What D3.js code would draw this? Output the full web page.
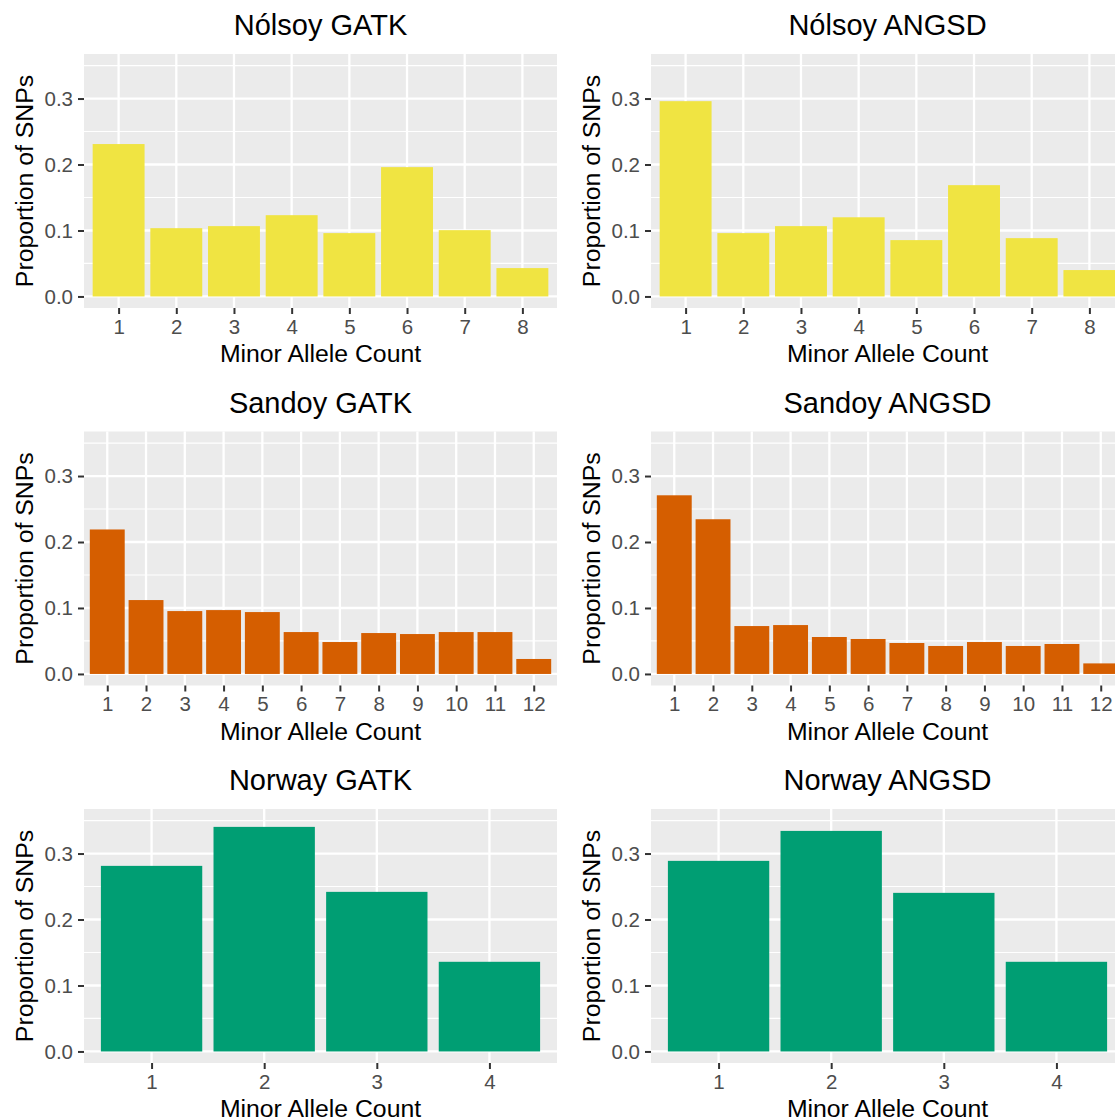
<!DOCTYPE html>
<html>
<head>
<meta charset="utf-8">
<script src="https://cdn.jsdelivr.net/npm/d3@7"></script>
<style>
  body { margin: 0; background: #fff; }
  svg text { font-family: "Liberation Sans", Arial, sans-serif; }
</style>
</head>
<body>
<div id="chartArea"></div>
<script>
// Minor allele count spectra, 3 populations x 2 callers

const nolsoyCounts = ["1", "2", "3", "4", "5", "6", "7", "8"];
const sandoyCounts = ["1", "2", "3", "4", "5", "6", "7", "8", "9", "10", "11", "12"];
const norwayCounts = ["1", "2", "3", "4"];

const nolsoyGatk = [0.231, 0.1035, 0.1066, 0.1232, 0.096, 0.196, 0.1005, 0.043];
const nolsoyAngsd = [0.296, 0.096, 0.1066, 0.120, 0.0854, 0.1687, 0.0884, 0.040];
const sandoyGatk = [0.219, 0.112, 0.0953, 0.0968, 0.0938, 0.0635, 0.0484, 0.062, 0.0605, 0.0635, 0.0635, 0.0227];
const sandoyAngsd = [0.2708, 0.2345, 0.0726, 0.0741, 0.056, 0.053, 0.0469, 0.0424, 0.0484, 0.0424, 0.0454, 0.016];
const norwayGatk = [0.2813, 0.3404, 0.2419, 0.1359];
const norwayAngsd = [0.2889, 0.3343, 0.2404, 0.1359];

const panelTitles = ["Nólsoy GATK", "Nólsoy ANGSD", "Sandoy GATK", "Sandoy ANGSD", "Norway GATK", "Norway ANGSD"];
const yTicks = [0, 0.1, 0.2, 0.3];
const yMinorTicks = [0.05, 0.15, 0.25, 0.35];
const yLimit = 0.35;

const colYellow = "#F0E442";
const colOrange = "#D55E00";
const colGreen = "#009E73";

const panels = [
  { title: panelTitles[0], counts: nolsoyCounts, values: nolsoyGatk, color: colYellow },
  { title: panelTitles[1], counts: nolsoyCounts, values: nolsoyAngsd, color: colYellow },
  { title: panelTitles[2], counts: sandoyCounts, values: sandoyGatk, color: colOrange },
  { title: panelTitles[3], counts: sandoyCounts, values: sandoyAngsd, color: colOrange },
  { title: panelTitles[4], counts: norwayCounts, values: norwayGatk, color: colGreen },
  { title: panelTitles[5], counts: norwayCounts, values: norwayAngsd, color: colGreen },
];

const width = 1115;
const height = 1120;
const colStep = 567;
const rowStep = 377.5;
// panel box inside one plot cell
const pLeft = 84, pTop = 54, pWidth = 473, pHeight = 254;
const tickFont = "20.5px";

const svg = d3.select("#chartArea")
  .append("svg")
  .attr("width", width)
  .attr("height", height);

panels.forEach((p, i) => {
  const col = i % 2;
  const row = Math.floor(i / 2);
  drawPanel(svg.append("g").attr("transform", `translate(${col * colStep}, ${row * rowStep})`), p);
});

function drawPanel(g, p) {
  const x = d3.scalePoint()
    .domain(p.counts)
    .range([pLeft, pLeft + pWidth])
    .padding(0.6);
  const bw = x.step() * 0.9;

  // ggplot-style 5% expansion on [0, yLimit]
  const y = d3.scaleLinear()
    .domain([-0.05 * yLimit, yLimit * 1.05])
    .range([pTop + pHeight, pTop]);

  // Panel background
  g.append("rect")
    .attr("x", pLeft).attr("y", pTop)
    .attr("width", pWidth).attr("height", pHeight)
    .attr("fill", "#EBEBEB");

  // Grid
  g.selectAll(".minor")
    .data(yMinorTicks)
    .join("line")
    .attr("x1", pLeft).attr("x2", pLeft + pWidth)
    .attr("y1", (d) => y(d)).attr("y2", (d) => y(d))
    .attr("stroke", "#fff").attr("stroke-width", 1.2);

  g.selectAll(".majorY")
    .data(yTicks)
    .join("line")
    .attr("x1", pLeft).attr("x2", pLeft + pWidth)
    .attr("y1", (d) => y(d)).attr("y2", (d) => y(d))
    .attr("stroke", "#fff").attr("stroke-width", 2.3);

  g.selectAll(".majorX")
    .data(p.counts)
    .join("line")
    .attr("x1", (d) => x(d)).attr("x2", (d) => x(d))
    .attr("y1", pTop).attr("y2", pTop + pHeight)
    .attr("stroke", "#fff").attr("stroke-width", 2.3);

  // Bars
  g.selectAll(".bar")
    .data(p.counts.map((c, j) => ({ c, v: p.values[j] })))
    .join("rect")
    .attr("x", (d) => x(d.c) - bw / 2)
    .attr("y", (d) => y(d.v))
    .attr("width", bw)
    .attr("height", (d) => y(0) - y(d.v))
    .attr("fill", p.color);

  // Y axis
  const yAxis = g.append("g")
    .attr("transform", `translate(${pLeft}, 0)`)
    .call(d3.axisLeft(y).tickValues(yTicks).tickFormat(d3.format(".1f")).tickSize(6).tickPadding(5));
  yAxis.select(".domain").remove();
  yAxis.selectAll(".tick line").attr("stroke", "#333").attr("stroke-width", 2);
  yAxis.selectAll(".tick text")
    .attr("fill", "#4D4D4D")
    .attr("font-size", tickFont)
    .attr("font-family", "'Liberation Sans', Arial, sans-serif");

  // X axis
  const xAxis = g.append("g")
    .attr("transform", `translate(0, ${pTop + pHeight})`)
    .call(d3.axisBottom(x).tickSize(6).tickPadding(5));
  xAxis.select(".domain").remove();
  xAxis.selectAll(".tick line").attr("stroke", "#333").attr("stroke-width", 2);
  xAxis.selectAll(".tick text")
    .attr("fill", "#4D4D4D")
    .attr("font-size", tickFont)
    .attr("font-family", "'Liberation Sans', Arial, sans-serif");

  // Titles
  g.append("text")
    .attr("x", pLeft + pWidth / 2).attr("y", 35)
    .attr("text-anchor", "middle")
    .attr("font-size", "29px")
    .attr("fill", "#000")
    .text(p.title);

  g.append("text")
    .attr("x", pLeft + pWidth / 2).attr("y", 362)
    .attr("text-anchor", "middle")
    .attr("font-size", "24.8px")
    .attr("fill", "#000")
    .text("Minor Allele Count");

  g.append("text")
    .attr("transform", `translate(33, ${pTop + pHeight / 2}) rotate(-90)`)
    .attr("text-anchor", "middle")
    .attr("font-size", "24.8px")
    .attr("fill", "#000")
    .text("Proportion of SNPs");
}
</script>
</body>
</html>
